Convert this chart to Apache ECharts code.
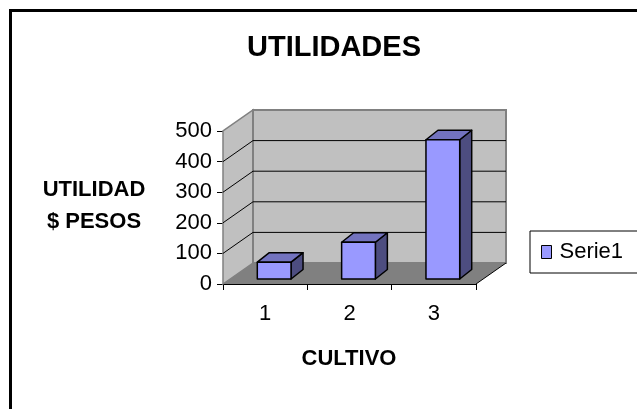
<!DOCTYPE html>
<html>
<head>
<meta charset="utf-8">
<title>UTILIDADES</title>
<script src="https://cdn.jsdelivr.net/npm/echarts@6/dist/echarts.min.js"></script>
<style>
  html, body { margin: 0; padding: 0; background: #fff; }
  #chart { width: 637px; height: 409px; }
</style>
</head>
<body>
<div id="chart"></div>
<script>
// datos del grafico
const cultivos = ['1', '2', '3']
const utilidades = [55, 120, 455]
const yTicks = [0, 100, 200, 300, 400, 500]
const serieName = 'Serie1'

// profundidad del "3D" (pixeles)
const WALL = [30, -21]
const BAR_FRONT = [9, -5]
const BAR_BACK = [21, -14.5]
const FONT = '"Liberation Sans", Arial, sans-serif'

const chart = echarts.init(document.getElementById('chart'))

function pts (list) {
  return list.map(p => [p[0], p[1]])
}

// paredes, piso y lineas de division
function renderWalls (params, api) {
  const bw = api.size([1, 0])[0]
  const L = api.coord([0, 0])[0] - bw / 2
  const R = api.coord([cultivos.length - 1, 0])[0] + bw / 2
  const y0 = api.coord([0, yTicks[0]])[1]
  const yTop = api.coord([0, yTicks[yTicks.length - 1]])[1]
  const [dx, dy] = WALL
  const children = [
    {
      type: 'polygon',
      shape: { points: pts([[L, y0], [L + dx, y0 + dy], [L + dx, yTop + dy], [L, yTop]]) },
      style: { fill: '#c0c0c0', stroke: '#808080', lineWidth: 1.5 }
    },
    {
      type: 'rect',
      shape: { x: L + dx, y: yTop + dy, width: R - L, height: y0 - yTop },
      style: { fill: '#c0c0c0', stroke: '#808080', lineWidth: 2 }
    },
    {
      type: 'polygon',
      shape: { points: pts([[L, y0], [R, y0], [R + dx, y0 + dy], [L + dx, y0 + dy]]) },
      style: { fill: '#808080' }
    },
    {
      type: 'line',
      shape: { x1: R, y1: y0, x2: R + dx, y2: y0 + dy },
      style: { stroke: '#000', lineWidth: 1 }
    }
  ]
  yTicks.slice(1, -1).forEach(v => {
    const y = api.coord([0, v])[1]
    children.push({
      type: 'line',
      shape: { x1: L, y1: y, x2: L + dx, y2: y + dy },
      style: { stroke: '#000', lineWidth: 1 }
    })
    children.push({
      type: 'line',
      shape: { x1: L + dx, y1: y + dy, x2: R + dx, y2: y + dy },
      style: { stroke: '#000', lineWidth: 1 }
    })
  })
  return { type: 'group', children }
}

// barras 3D
function renderBar (params, api) {
  const idx = api.value(0)
  const top = api.coord([idx, api.value(1)])
  const base = api.coord([idx, 0])
  const w = api.size([1, 0])[0] * 0.4
  const x0 = top[0] - w / 2
  const x1 = top[0] + w / 2
  const yt = top[1]
  const yb = base[1]
  const [fx, fy] = BAR_FRONT
  const [bx, by] = BAR_BACK
  const edge = { stroke: '#000', lineWidth: 1.5, lineJoin: 'round' }
  return {
    type: 'group',
    children: [
      {
        type: 'polygon',
        shape: { points: pts([[x1 + fx, yt + fy], [x1 + bx, yt + by], [x1 + bx, yb + by], [x1 + fx, yb + fy]]) },
        style: Object.assign({ fill: '#4d4d80' }, edge)
      },
      {
        type: 'polygon',
        shape: { points: pts([[x0 + fx, yt + fy], [x1 + fx, yt + fy], [x1 + bx, yt + by], [x0 + bx, yt + by]]) },
        style: Object.assign({ fill: '#7373bf' }, edge)
      },
      {
        type: 'rect',
        shape: { x: x0 + fx, y: yt + fy, width: w, height: yb - yt },
        style: Object.assign({ fill: '#9999ff' }, edge)
      }
    ]
  }
}

const option = {
  backgroundColor: '#fff',
  animation: false,
  grid: { left: 223, top: 131, width: 253, height: 153 },
  legend: {
    data: [{ name: serieName, icon: 'rect' }],
    left: 530,
    top: 231,
    orient: 'vertical',
    padding: [10, 24, 10, 11],
    itemWidth: 10,
    itemHeight: 13,
    backgroundColor: '#fff',
    borderColor: '#000',
    borderWidth: 1,
    borderRadius: 0,
    itemStyle: { borderColor: '#000', borderWidth: 1 },
    textStyle: { fontFamily: FONT, fontSize: 22, color: '#000', padding: [0, 0, 0, 3] }
  },
  xAxis: {
    type: 'category',
    data: cultivos,
    boundaryGap: true,
    axisLine: { show: true, lineStyle: { color: '#000', width: 1 } },
    axisTick: { show: true, length: 6, lineStyle: { color: '#000' } },
    axisLabel: { color: '#000', fontFamily: FONT, fontSize: 22, margin: 19 },
    splitLine: { show: false }
  },
  yAxis: {
    type: 'value',
    min: 0,
    max: 500,
    interval: 100,
    axisLine: { show: false },
    axisTick: { show: true, length: 6, lineStyle: { color: '#000' } },
    axisLabel: { color: '#000', fontFamily: FONT, fontSize: 22, margin: 11 },
    splitLine: { show: false }
  },
  series: [
    {
      type: 'custom',
      name: 'walls',
      silent: true,
      z: 1,
      renderItem: renderWalls,
      data: [[0, 0]]
    },
    {
      type: 'custom',
      name: serieName,
      z: 5,
      itemStyle: { color: '#9999ff' },
      renderItem: renderBar,
      data: utilidades.map((v, i) => [i, v])
    }
  ],
  graphic: [
    {
      type: 'rect',
      shape: { x: 10.5, y: 10.5, width: 720, height: 520 },
      style: { fill: 'none', stroke: '#000', lineWidth: 3 },
      z: 0
    },
    {
      type: 'text',
      x: 334,
      y: 48,
      style: {
        text: 'UTILIDADES',
        font: 'bold 29px ' + FONT,
        fill: '#000',
        textAlign: 'center',
        textVerticalAlign: 'middle'
      }
    },
    {
      type: 'text',
      x: 94,
      y: 190,
      style: {
        text: 'UTILIDAD',
        font: 'bold 22px ' + FONT,
        fill: '#000',
        textAlign: 'center',
        textVerticalAlign: 'middle'
      }
    },
    {
      type: 'text',
      x: 94,
      y: 222,
      style: {
        text: '$ PESOS',
        font: 'bold 22px ' + FONT,
        fill: '#000',
        textAlign: 'center',
        textVerticalAlign: 'middle'
      }
    },
    {
      type: 'text',
      x: 349,
      y: 359,
      style: {
        text: 'CULTIVO',
        font: 'bold 22px ' + FONT,
        fill: '#000',
        textAlign: 'center',
        textVerticalAlign: 'middle'
      }
    }
  ]
}

chart.setOption(option)
</script>
</body>
</html>
